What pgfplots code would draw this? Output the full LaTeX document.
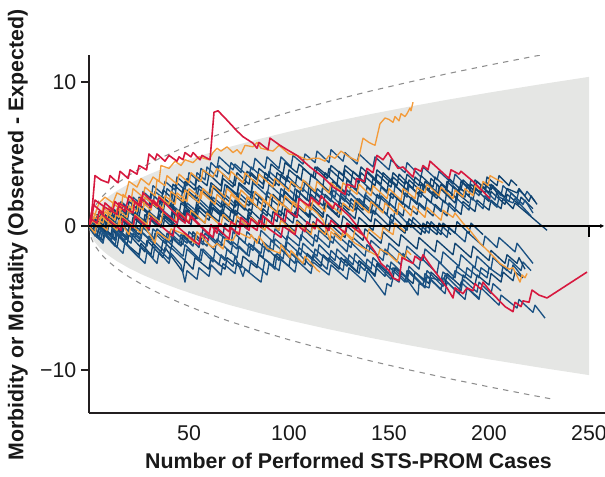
\documentclass[border=0pt]{standalone}
\usepackage{fontspec}
\setmainfont{Liberation Sans}
\usepackage{pgfplots}
\pgfplotsset{compat=1.18}
\usetikzlibrary{arrows.meta}
\definecolor{cblue}{HTML}{1B5283}
\definecolor{cblueb}{HTML}{0F426F}
\definecolor{cred}{HTML}{D7193F}
\definecolor{corange}{HTML}{F39B3A}
\definecolor{band}{HTML}{E5E6E4}
\definecolor{dgray}{HTML}{8E8E8E}
\definecolor{axisc}{HTML}{231F20}
\begin{document}
\begin{tikzpicture}
\path[use as bounding box] (0,0) rectangle (453.75pt,357pt);
\begin{axis}[at={(66.75pt,47.25pt)}, anchor=south west, scale only axis,
  width=387pt, height=268.5pt,
  xmin=0, xmax=258, ymin=-12.99, ymax=11.875,
  axis x line*=bottom, axis y line*=left,
  axis line style={line width=1.9pt, color=axisc},
  xtick={50,100,150,200,250}, ytick={-10,0,10}, yticklabels={−10,0,10},
  x tick style={draw=none}, y tick style={line width=1.5pt, color=axisc},
  tick align=outside, major tick length=6pt,
  tick label style={font=\fontsize{16}{19}\selectfont, text=black!90},
  /pgf/number format/assume math mode=true,
  every axis plot/.append style={line join=round},
]
% band
\addplot[draw=none, fill=band] coordinates {
(0,0) (0.5,0.463) (1,0.655) (2,0.926) (3,1.134) (5,1.465) (7,1.733) (10,2.071) (14,2.451) (20,2.929) (27,3.404) (35,3.875) (45,4.394) (55,4.858) (70,5.480) (85,6.039) (100,6.55) (120,7.175) (140,7.750) (160,8.285) (180,8.788) (200,9.263) (225,9.825) (250,10.357)
(250,-10.357) (225,-9.825) (200,-9.263) (180,-8.788) (160,-8.285) (140,-7.750) (120,-7.175) (100,-6.55) (85,-6.039) (70,-5.480) (55,-4.858) (45,-4.394) (35,-3.875) (27,-3.404) (20,-2.929) (14,-2.451) (10,-2.071) (7,-1.733) (5,-1.465) (3,-1.134) (2,-0.926) (1,-0.655) (0.5,-0.463) (0,0)};
% dashed limits
\addplot[dgray, line width=0.8pt, dash pattern=on 4pt off 4pt] coordinates {
(1,0.79) (2,1.117) (3,1.368) (5,1.766) (7,2.090) (10,2.498) (14,2.956) (20,3.533) (27,4.105) (35,4.674) (45,5.299) (55,5.859) (70,6.610) (85,7.284) (100,7.9) (120,8.654) (140,9.347) (160,9.993) (180,10.599) (200,11.172) (220,11.718) (233,12.059)};
\addplot[dgray, line width=0.8pt, dash pattern=on 4pt off 4pt] coordinates {
(1,-0.79) (2,-1.117) (3,-1.368) (5,-1.766) (7,-2.090) (10,-2.498) (14,-2.956) (20,-3.533) (27,-4.105) (35,-4.674) (45,-5.299) (55,-5.859) (70,-6.610) (85,-7.284) (100,-7.9) (120,-8.654) (140,-9.347) (160,-9.993) (180,-10.599) (200,-11.172) (220,-11.718) (233,-12.059)};

\pgfplotsset{bl/.style={cblue, line width=1.0pt}, blb/.style={cblueb, line width=1.0pt}, or/.style={corange, line width=1.0pt}, rd/.style={cred, line width=1.2pt}}
% blue lines
\addplot[bl] coordinates {(0,0)(1,-0.2)(2,0.6)(6,0.1)(7,0.9)(11,0.4)(12,1.2)(16,0.7)(17,1.5)(21,1.0)(22,1.8)(27,1.2)(28,2.0)(32,1.5)(33,2.4)(38,1.8)(39,2.6)(43,2.1)(44,3.0)(48,2.5)(49,3.3)(53,2.8)(54,3.7)(58,3.2)(59,4.1)(64,3.4)(65,4.2)(70,3.6)(71,4.4)(76,3.7)(77,4.5)(82,3.9)(83,4.7)(88,4.0)(89,4.8)(95,4.0)(96,4.8)(101,4.1)(102,4.9)(107,4.3)(108,5.0)(113,4.4)(114,5.2)(120,4.4)(121,5.3)(127,4.5)(128,5.1)(134,4.3)(135,5.0)(142,4.1)(143,4.8)(150,3.9)(151,4.6)(158,3.7)(159,4.4)(166,3.4)(167,4.1)(174,3.2)(175,3.8)(182,2.9)(183,3.6)(190,2.6)(191,3.2)(198,2.3)(199,3.0)(206,2.1)(207,2.8)(214,1.9)(215,2.5)(218,2.1)(219,2.4)(223,1.7)};
\addplot[blb] coordinates {(0,0)(2,-0.3)(3,0.5)(8,-0.1)(9,0.7)(13,0.2)(14,1.0)(19,0.4)(20,1.2)(25,0.6)(26,1.4)(30,0.9)(31,1.7)(36,1.1)(37,2.0)(42,1.4)(43,2.2)(48,1.6)(49,2.5)(54,1.9)(55,2.8)(60,2.2)(61,3.0)(66,2.4)(67,3.3)(72,2.7)(73,3.5)(78,2.9)(79,3.8)(84,3.2)(85,4.0)(90,3.4)(91,4.3)(97,3.6)(98,4.4)(104,3.7)(105,4.3)(112,3.4)(113,4.1)(119,3.3)(120,4.0)(127,3.1)(128,3.9)(135,3.0)(136,3.7)(143,2.8)(144,3.6)(151,2.7)(152,3.4)(159,2.5)(160,3.2)(167,2.3)(168,3.1)(175,2.2)(176,2.9)(184,1.9)(185,2.7)(192,1.8)(193,2.6)(200,1.7)(201,2.4)(208,1.5)(209,2.2)(215,1.5)(216,2.0)(222,1.2)};
\addplot[bl] coordinates {(0,0)(3,-0.4)(4,0.4)(9,-0.2)(10,0.6)(16,-0.1)(17,0.7)(22,0.1)(23,0.9)(29,0.2)(30,1.0)(35,0.4)(36,1.2)(41,0.6)(42,1.4)(48,0.7)(49,1.6)(54,1.0)(55,1.9)(61,1.1)(62,2.0)(67,1.4)(68,2.2)(74,1.4)(75,2.3)(81,1.5)(82,2.4)(88,1.6)(89,2.4)(95,1.7)(96,2.6)(102,1.8)(103,2.6)(109,1.8)(110,2.7)(116,1.9)(117,2.8)(123,2.0)(124,2.9)(130,2.1)(131,2.8)(138,1.9)(139,2.7)(145,1.9)(146,2.7)(152,1.9)(153,2.8)(159,2.0)(160,2.8)(166,2.0)(167,2.9)(173,2.1)(174,2.9)(181,1.9)(182,2.8)(188,2.0)(189,2.9)(195,2.1)(196,2.8)(203,1.8)(204,2.4)(210,1.7)(211,2.3)(217,1.5)(218,1.8)(222,0.9)};
\addplot[blb] coordinates {(0,0)(1,-0.3)(5,-0.8)(6,0.0)(11,-0.6)(12,0.2)(17,-0.4)(18,0.4)(22,-0.1)(23,0.7)(28,0.1)(29,0.9)(34,0.3)(35,1.1)(41,0.4)(42,1.3)(47,0.7)(48,1.5)(53,0.9)(54,1.8)(60,1.0)(61,1.9)(66,1.3)(67,2.1)(73,1.3)(74,2.1)(80,1.4)(81,2.2)(88,1.3)(89,2.1)(95,1.4)(96,2.2)(103,1.3)(104,2.1)(110,1.3)(111,2.2)(117,1.4)(118,2.2)(125,1.3)(126,2.1)(133,1.1)(134,1.9)(141,0.9)(142,1.7)(149,0.8)(150,1.6)(157,0.7)(158,1.5)(164,0.8)(165,1.6)(172,0.7)(173,1.5)(179,0.7)(180,1.6)(186,0.8)(187,1.7)(193,1.0)(194,1.8)(200,1.1)(201,1.8)(206,1.2)(207,1.9)(212,1.2)(213,1.6)(229,-0.3)};
\addplot[bl] coordinates {(0,0)(2,-0.4)(3,0.3)(7,-0.2)(8,0.6)(13,0.0)(14,0.8)(19,0.2)(20,1.0)(24,0.5)(25,1.4)(30,0.8)(31,1.7)(35,1.2)(36,2.0)(41,1.4)(42,2.3)(46,1.8)(47,2.6)(53,1.9)(54,2.7)(60,1.9)(61,2.8)(67,2.0)(68,2.9)(74,2.1)(75,2.9)(81,2.1)(82,3.0)(89,2.1)(90,2.9)(97,2.0)(98,2.8)(105,1.9)(106,2.7)(113,1.8)(114,2.6)(121,1.7)(122,2.5)(128,1.7)(129,2.5)(137,1.4)(138,2.2)(145,1.3)(146,2.1)(153,1.2)(154,2.0)(160,1.2)(161,2.0)(168,1.1)(169,1.9)(176,1.0)(177,1.8)(183,1.0)(184,1.9)(190,1.1)(191,2.0)(197,1.2)(198,2.1)(204,1.3)(205,2.0)(212,1.6)(213,1.9)(221,0.7)};
\addplot[blb] coordinates {(0,0)(3,-0.5)(7,-1.0)(8,-0.2)(13,-0.9)(14,-0.1)(19,-0.8)(20,0.0)(25,-0.6)(26,0.2)(30,-0.3)(31,0.5)(36,-0.1)(37,0.7)(42,0.1)(43,0.9)(48,0.3)(49,1.1)(54,0.5)(55,1.3)(60,0.7)(61,1.6)(67,0.8)(68,1.6)(74,0.8)(75,1.7)(81,0.8)(82,1.6)(89,0.7)(90,1.5)(96,0.7)(97,1.5)(104,0.6)(105,1.4)(110,0.7)(111,1.6)(117,0.8)(118,1.6)(124,0.8)(125,1.7)(130,1.1)(131,1.9)(137,1.1)(138,2.0)(143,1.4)(144,2.2)(150,1.4)(151,2.3)(157,1.5)(158,2.3)(164,1.5)(165,2.4)(171,1.6)(172,2.4)(178,1.6)(179,2.5)(184,1.9)(185,2.7)(190,2.1)(191,2.9)(196,2.3)(197,3.0)(201,2.5)(202,2.8)(205,2.0)};
\addplot[bl] coordinates {(0,0)(2,-0.4)(6,-1.0)(7,-0.2)(12,-0.9)(13,-0.1)(19,-0.9)(20,-0.1)(26,-0.9)(27,-0.1)(33,-0.9)(34,-0.2)(41,-1.1)(42,-0.3)(49,-1.2)(50,-0.4)(57,-1.3)(58,-0.5)(64,-1.3)(65,-0.5)(71,-1.3)(72,-0.4)(78,-1.2)(79,-0.4)(85,-1.2)(86,-0.3)(92,-1.1)(93,-0.2)(99,-1.0)(100,-0.2)(106,-1.0)(107,-0.2)(114,-1.1)(115,-0.3)(122,-1.2)(123,-0.5)(131,-1.5)(132,-0.8)(140,-1.8)(141,-1.0)(149,-2.0)(150,-1.2)(158,-2.2)(159,-1.4)(167,-2.4)(168,-1.6)(176,-2.6)(177,-1.8)(185,-2.8)(186,-2.0)(193,-2.9)(194,-2.1)(201,-3.0)(202,-2.2)(209,-3.1)(210,-2.3)(216,-3.1)(217,-2.5)(221,-3.1)};
\addplot[blb] coordinates {(0,0)(2,0.5)(5,0.1)(6,0.9)(11,0.3)(12,1.1)(17,0.5)(18,1.3)(23,0.7)(24,1.5)(30,0.8)(31,1.6)(37,0.9)(38,1.7)(45,0.8)(46,1.6)(53,0.7)(54,1.5)(61,0.6)(62,1.3)(70,0.3)(71,1.1)(79,0.0)(80,0.8)(87,-0.2)(88,0.6)(95,-0.3)(96,0.5)(103,-0.4)(104,0.4)(111,-0.5)(112,0.3)(119,-0.6)(120,0.2)(128,-0.8)(129,0.0)(137,-1.0)(138,-0.2)(146,-1.2)(147,-0.4)(155,-1.4)(156,-0.6)(164,-1.6)(165,-0.8)(173,-1.8)(174,-1.0)(182,-2.0)(183,-1.2)(191,-2.2)(192,-1.4)(200,-2.4)(201,-1.7)(208,-2.6)(209,-2.0)(214,-2.6)(215,-2.2)(218,-3.0)};
\addplot[bl] coordinates {(0,0)(3,-0.6)(4,0.1)(9,-0.6)(10,0.1)(16,-0.7)(17,0.0)(23,-0.8)(24,-0.1)(31,-1.0)(32,-0.2)(39,-1.1)(40,-0.4)(47,-1.3)(48,-0.5)(55,-1.5)(56,-0.7)(63,-1.7)(64,-0.9)(71,-1.9)(72,-1.1)(79,-2.0)(80,-1.2)(87,-2.2)(88,-1.4)(95,-2.4)(96,-1.6)(103,-2.6)(104,-1.8)(111,-2.8)(112,-2.0)(119,-3.0)(120,-2.2)(127,-3.1)(128,-2.3)(135,-3.3)(136,-2.5)(143,-3.5)(144,-2.7)(151,-3.7)(152,-2.9)(159,-3.9)(160,-3.1)(167,-4.1)(168,-3.3)(176,-4.4)(177,-3.6)(185,-4.7)(186,-3.9)(195,-5.1)(196,-4.3)(205,-5.5)(206,-4.8)(214,-5.7)(215,-5.1)(222,-6.0)(223,-5.5)(228,-6.4)};
\addplot[blb] coordinates {(0,0)(4,-0.7)(5,0.0)(11,-1.0)(12,-0.3)(19,-1.3)(20,-0.6)(28,-1.8)(29,-1.0)(37,-2.2)(38,-1.5)(47,-3.2)(48,-2.4)(52,-3.0)(53,-2.2)(60,-3.0)(61,-2.2)(68,-3.0)(69,-2.2)(76,-2.9)(77,-2.1)(84,-2.9)(85,-2.0)(92,-2.8)(93,-2.0)(100,-2.8)(101,-1.9)(108,-2.7)(109,-1.9)(116,-2.8)(117,-2.0)(125,-3.0)(126,-2.2)(134,-3.2)(135,-2.4)(143,-3.4)(144,-2.6)(152,-3.6)(153,-2.9)(162,-4.0)(163,-3.2)(170,-4.0)(171,-3.2)(178,-4.1)(179,-3.3)(186,-4.2)(187,-3.4)(193,-4.1)(194,-3.4)(200,-4.1)(201,-3.3)(206,-3.9)(207,-3.2)(212,-3.8)(213,-3.2)(217,-3.6)};
\addplot[bl] coordinates {(0,0)(2,-0.4)(6,-0.9)(7,-0.2)(13,-1.0)(14,-0.3)(21,-1.2)(22,-0.5)(29,-1.4)(30,-0.7)(38,-1.8)(39,-1.0)(47,-2.1)(48,-1.3)(56,-2.4)(57,-1.6)(65,-2.7)(66,-2.0)(72,-2.8)(73,-2.1)(77,-3.5)(78,-3.0)(86,-3.9)(87,-3.1)(89,-3.4)(90,-2.6)(93,-3.0)(94,-1.9)(97,-2.3)(98,-1.5)(104,-2.3)(105,-1.5)(112,-2.4)(113,-1.6)(120,-2.5)(121,-1.7)(129,-2.8)(130,-2.0)(138,-3.1)(139,-2.3)(148,-3.5)(149,-2.7)(158,-3.9)(159,-3.1)(168,-4.3)(169,-3.5)(178,-4.7)(179,-3.9)(188,-5.1)(189,-4.3)(195,-5.0)};
\addplot[blb] coordinates {(0,0)(2,-0.5)(3,0.3)(8,-0.4)(9,0.4)(14,-0.2)(15,0.6)(21,-0.2)(22,0.6)(27,0.0)(28,0.8)(34,0.0)(35,0.8)(41,0.0)(42,0.9)(47,0.3)(48,1.1)(53,0.4)(54,1.2)(60,0.4)(61,1.3)(66,0.7)(67,1.5)(72,0.9)(73,1.8)(78,1.1)(79,2.0)(84,1.3)(85,2.1)(91,1.3)(92,2.2)(97,1.5)(98,2.4)(103,1.7)(104,2.5)(110,1.7)(111,2.6)(116,1.9)(117,2.8)(121,2.3)(122,3.1)(128,2.3)(129,3.2)(134,2.5)(135,3.3)(141,2.5)(142,3.3)(149,2.4)(150,3.2)(157,2.3)(158,3.1)(165,2.2)(166,2.9)(174,1.9)(175,2.7)(183,1.6)(184,2.3)(190,1.6)};
\addplot[bl] coordinates {(0,0)(1,0.5)(5,0.0)(6,0.9)(10,0.4)(11,1.3)(15,0.8)(16,1.7)(21,1.1)(22,2.0)(26,1.5)(27,2.4)(31,1.9)(32,2.8)(37,2.2)(38,3.1)(43,2.5)(44,3.4)(49,2.8)(50,3.7)(55,3.1)(56,4.0)(60,3.5)(61,4.4)(64,4.0)(65,4.8)(72,3.9)(73,4.3)(80,3.4)(81,4.1)(89,3.1)(90,3.8)(98,2.8)(99,3.5)(107,2.4)(108,3.1)(116,2.0)(117,2.7)(125,1.6)(126,2.3)(134,1.2)(135,1.9)(143,0.8)(144,1.5)(152,0.3)(153,1.1)(161,-0.1)(162,0.6)(170,-0.5)(171,0.3)(179,-0.8)(180,-0.1)(188,-1.1)(189,-0.4)(197,-1.4)(198,-0.7)(204,-1.5)(205,-0.8)(213,-1.8)(214,-1.2)(222,-2.6)};
\addplot[blb] coordinates {(0,0)(4,-0.8)(5,-0.1)(10,-0.9)(14,-1.5)(15,-0.7)(20,-1.4)(25,-2.0)(26,-1.2)(31,-2.0)(32,-1.2)(36,-1.8)(37,-1.0)(41,-1.6)(42,-0.8)(46,-1.4)(47,-0.6)(51,-1.2)(52,-0.4)(56,-1.0)(57,-0.2)(62,-0.9)(63,-0.1)(67,-0.6)(68,0.2)(73,-0.4)(74,0.4)(79,-0.2)(80,0.6)(85,0.0)(86,0.8)(91,0.2)(92,1.0)(97,0.4)(98,1.2)(103,0.6)(104,1.4)(110,0.6)(111,1.4)(117,0.6)(118,1.5)(125,0.6)(126,1.4)(133,0.5)(134,1.3)(141,0.3)(142,1.1)(150,0.0)(151,0.8)(159,-0.3)(160,0.5)(168,-0.5)(169,0.3)(176,-0.6)(177,0.2)(183,-0.5)(184,0.3)(190,-0.5)(191,0.2)(197,-0.6)};
\addplot[bl] coordinates {(0,0)(3,-0.7)(4,0.0)(9,-0.8)(13,-1.4)(14,-0.6)(20,-1.5)(25,-2.2)(26,-1.4)(32,-2.2)(33,-1.4)(40,-2.3)(41,-1.5)(48,-2.4)(49,-1.6)(55,-2.4)(56,-1.6)(62,-2.5)(63,-1.7)(68,-2.4)(69,-1.6)(74,-2.2)(75,-1.4)(80,-2.1)(81,-1.3)(86,-1.9)(87,-1.1)(92,-1.7)(93,-0.9)(98,-1.5)(99,-0.7)(105,-1.4)(106,-0.6)(112,-1.4)(113,-0.6)(120,-1.5)(121,-0.7)(129,-1.8)(130,-1.0)(138,-2.1)(139,-1.3)(147,-2.4)(148,-1.6)(156,-2.7)(157,-1.9)(165,-3.0)(166,-2.2)(174,-3.3)(175,-2.5)(183,-3.6)(184,-2.8)(191,-3.6)(192,-2.8)(199,-3.6)(200,-2.9)(206,-3.5)(207,-2.8)(211,-3.3)(212,-2.7)(216,-3.4)};
\addplot[blb] coordinates {(0,0)(1,0.3)(3,0.0)(4,0.8)(9,0.2)(10,1.0)(14,0.5)(15,1.3)(19,0.8)(20,1.7)(24,1.2)(25,2.0)(30,1.4)(31,2.3)(36,1.6)(37,2.5)(41,2.0)(42,2.9)(47,2.3)(48,3.1)(53,2.5)(54,3.4)(59,2.8)(60,3.6)(66,2.8)(67,3.6)(73,2.8)(74,3.7)(80,2.9)(81,3.7)(87,2.9)(88,3.7)(95,2.8)(96,3.6)(103,2.7)(104,3.5)(110,2.7)(111,3.6)(117,2.8)(118,3.7)(124,2.9)(125,3.8)(131,3.0)(132,3.8)(138,3.0)(139,3.8)(146,2.9)(147,3.7)(154,2.8)(155,3.6)(162,2.6)(163,3.4)(170,2.5)(171,3.3)(178,2.3)(179,3.1)(185,2.3)(186,3.1)(192,2.3)(193,3.2)(198,2.6)(199,3.4)(204,2.8)(205,3.5)(210,2.8)(211,3.2)(214,2.8)};
\addplot[bl] coordinates {(0,0)(3,-0.6)(7,-1.2)(8,-0.5)(13,-1.3)(17,-1.9)(18,-1.1)(23,-1.9)(28,-2.6)(29,-1.8)(34,-2.6)(35,-1.8)(40,-2.6)(41,-1.9)(46,-2.7)(48,-3.9)(49,-3.1)(54,-3.7)(55,-2.9)(60,-3.5)(61,-2.7)(66,-3.4)(67,-2.6)(73,-3.3)(74,-2.5)(80,-3.2)(81,-2.4)(87,-3.1)(88,-2.3)(95,-3.1)(96,-2.3)(103,-3.2)(104,-2.4)(111,-3.3)(112,-2.5)(120,-3.4)(121,-2.7)(129,-3.7)(130,-2.9)(138,-3.9)(139,-3.1)(148,-4.8)(149,-4.0)(151,-4.2)(152,-3.6)(155,-3.9)(156,-3.3)(158,-3.5)(164.5,-4.8)(165,-4.0)(170,-4.3)(171,-3.6)(176,-3.8)(177,-3.2)(182,-3.7)(183,-3.1)(188,-3.6)(189,-2.9)(195,-3.6)(196,-2.9)(200,-3.3)};
\addplot[blb] coordinates {(0,0)(2,-0.3)(3,0.5)(7,0.0)(8,0.8)(12,0.3)(13,1.1)(18,0.5)(19,1.3)(24,0.7)(25,1.5)(30,0.9)(31,1.7)(35,1.2)(36,2.0)(42,1.3)(43,2.1)(48,1.5)(49,2.3)(55,1.6)(56,2.5)(61,1.9)(62,2.7)(68,2.0)(69,2.8)(74,2.2)(75,3.0)(81,2.3)(82,3.2)(87,2.6)(88,3.4)(93,2.8)(94,3.7)(99,3.1)(100,3.9)(106,3.2)(107,4.0)(113,3.3)(114,4.1)(120,3.4)(121,4.2)(127,3.5)(128,4.2)(135,3.4)(136,4.1)(143,3.2)(144,3.9)(151,3.0)(152,3.7)(158,2.9)(159,3.6)(165,2.8)(166,3.5)(172,2.7)(173,3.4)(179,2.6)(180,3.3)(186,2.5)(187,3.2)(193,2.4)(194,3.1)(200,2.3)(201,2.9)(208,2.0)(209,2.6)(214,2.3)(215,2.6)(220,1.7)(221,2.1)(224,1.5)};
\addplot[bl] coordinates {(0,0)(1,-0.3)(5,-0.9)(6,-0.2)(11,-1.0)(12,-0.2)(18,-1.0)(19,-0.3)(25,-1.1)(26,-0.4)(32,-1.2)(33,-0.5)(38,-1.2)(39,-0.5)(45,-1.3)(46,-0.6)(52,-1.4)(53,-0.6)(59,-1.4)(60,-0.6)(66,-1.4)(67,-0.7)(74,-1.6)(75,-0.8)(82,-1.7)(83,-0.9)(90,-1.8)(91,-1.0)(98,-1.9)(99,-1.1)(106,-2.0)(107,-1.2)(114,-2.1)(115,-1.3)(123,-2.4)(124,-1.6)(132,-2.7)(133,-1.9)(141,-3.0)(142,-2.2)(150,-3.3)(151,-2.5)(159,-3.6)(160,-2.8)(168,-3.9)(169,-3.1)(177,-4.2)(178,-3.4)(186,-4.5)(187,-3.7)(194,-4.6)(195,-3.9)(201,-4.7)(202,-4.0)(206,-4.5)};
\addplot[blb] coordinates {(0,0)(2,0.4)(6,-0.1)(7,0.7)(12,0.1)(16,-0.4)(17,0.4)(23,-0.3)(24,0.5)(30,-0.2)(31,0.6)(37,-0.1)(38,0.7)(44,0.0)(45,0.8)(51,0.1)(52,0.9)(58,0.2)(59,1.0)(65,0.3)(66,1.1)(72,0.3)(73,1.1)(79,0.4)(80,1.2)(86,0.4)(87,1.2)(94,0.3)(95,1.1)(102,0.2)(103,1.0)(110,0.1)(111,0.9)(118,0.0)(119,0.8)(126,-0.1)(127,0.7)(134,-0.2)(135,0.6)(142,-0.3)(143,0.5)(150,-0.4)(151,0.3)(158,-0.5)(159,0.3)(166,-0.6)(167,0.2)(174,-0.6)(175,0.2)(181,-0.6)};
% orange lines
\addplot[or] coordinates {(0,0)(3,0.8)(5,1.6)(8,2.0)(12,1.6)(14,2.3)(18,2.0)(20,3.1)(24,2.7)(26,3.3)(30,2.85)(32,3.4)(35,3.1)(36,4.2)(40,4.0)(43,4.5)(46,4.2)(48,4.6)(52,4.4)(55,4.8)(60,4.6)(62,5.1)(64,5.4)(66,5.2)(69,5.5)(72,5.1)(74,5.3)(76,5.0)(78,5.6)(82,5.5)(84,5.8)(86,5.4)(89,5.3)(92,5.2)(95,5.6)(100,5.0)(104,4.9)(109,4.6)(112,4.7)(115,4.7)(118,4.5)(120,4.9)(123,4.7)(126,5.2)(130,4.8)(134.5,4.5)(137,6.1)(140,5.8)(143,5.6)(145.5,7.1)(148,7.5)(150,7.4)(152,7.2)(153,7.6)(155,7.3)(156,7.8)(158,7.6)(159,7.8)(160.5,8.2)(161,8.0)(162,8.6)};
\addplot[or] coordinates {(0,0)(2,0.9)(6,0.5)(7,1.3)(11,0.8)(12,1.6)(16,1.1)(17,2.2)(21,1.7)(22,2.6)(27,2.0)(28,2.7)(33,2.1)(34,3.2)(38,2.8)(39,3.5)(44,2.9)(45,3.6)(50,3.0)(51,3.7)(56,3.1)(57,3.9)(62,3.4)(64,4.0)(70,3.2)(71,3.8)(77,3.0)(78,3.7)(84,2.9)(85,3.6)(92,2.7)(93,3.3)(100,2.4)(101,3.1)(106,2.5)(107,3.2)(113,2.4)(114,3.1)(120,2.3)(121,3.0)(126,2.4)(127,3.0)(134,2.2)(135,2.9)(141,2.1)(142,2.8)(149,1.9)(150,2.6)(156,1.8)(157,2.6)(163,1.9)(164,2.7)(168,2.3)(169,2.9)(175,2.1)(176,2.7)(182,1.9)(183,2.5)(187,2.0)(188,2.6)(192,2.1)(193,2.8)(196,2.5)(197,3.1)(199.5,2.8)(200.5,3.5)(203,3.3)(207,3.0)};
\addplot[or] coordinates {(0,0)(3,0.6)(7,0.2)(8,1.0)(13,0.4)(14,1.2)(19,0.6)(20,1.4)(24,1.0)(25,1.9)(31,1.1)(32,1.8)(37,1.2)(38,2.1)(43,1.5)(44,2.3)(49,1.7)(50,2.6)(56,1.9)(57,2.6)(61,2.1)(62,2.8)(68,2.0)(69,2.6)(75,1.8)(76,2.5)(82,1.7)(83,2.4)(90,1.5)(91,2.2)(97,1.4)(98,2.1)(104,1.3)(105,1.9)(111,1.1)(112,1.8)(118,1.0)(119,1.7)(126,0.8)(127,1.6)(132,1.0)(133,1.8)(140,0.9)(141,1.7)(147,0.9)(148,1.6)(154,0.8)(155,1.6)(161,0.7)(162,1.4)(168,0.6)(169,1.3)(176,0.4)(177,1.1)(182,0.6)(183,0.9)(187,0.2)(191,-0.4)(195.5,-1.2)(200,-1.8)(205.5,-2.6)(210,-3.0)(212,-2.9)(215.5,-3.9)(216.5,-3.4)(218,-3.6)(219,-3.3)};
\addplot[or] coordinates {(0,0)(3,-0.5)(4,0.3)(9,-0.3)(10,0.5)(15,-0.1)(16,0.7)(22,0.0)(23,0.8)(29,0.1)(30,0.9)(36,0.2)(37,1.0)(43,0.3)(44,1.1)(50,0.3)(51,1.1)(58,0.2)(59,0.9)(66,0.0)(67,0.8)(73,0.0)(74,0.7)(80,-0.1)(81,0.6)(88,-0.3)(89,0.5)(95,-0.3)(96,0.4)(103,-0.5)(104,0.3)(111,-0.6)(112,0.2)(118,-0.6)(119,0.1)(126,-0.8)(128,-0.5)(133,-1.2)(138,-1.6)(144.5,-2.1)(145.5,-1.6)(149.5,-1.9)(154,-2.5)(155,-1.9)(158,-2.3)(159,-1.7)(161,-2.0)};
\addplot[or] coordinates {(0,0)(2,0.4)(5,0.0)(6,0.7)(10,0.2)(14,-0.3)(15,0.4)(20,-0.6)(21,0.1)(26,-0.5)(27,0.2)(33,-1.2)(34,-0.4)(40,-1.0)(41,-0.2)(48,-0.6)(53,-1.2)(54,-0.4)(60,-1.3)(62,-1.5)(64,-1.2)(67,-1.6)(68,-0.9)(72,-1.0)(74,-0.4)(75.5,-0.5)(80.5,-0.85)(81,-0.6)(84,-1.2)(85,-0.7)(89,-1.55)(95.5,-1.9)(96,-1.3)(100.5,-2.2)(101,-1.7)(107,-2.6)(108,-2.1)(114,-3.05)(115.5,-3.2)};
\addplot[or] coordinates {(0,0)(1,0.5)(4,0.1)(5,1.0)(9,0.5)(10,1.3)(15,0.6)(16,1.5)(21,0.9)(22,1.7)(27,1.1)(28,2.0)(34,1.3)(35,2.1)(40,1.5)(41,2.4)(47,1.7)(48,2.5)(55,1.6)(56,2.4)(63,1.5)(64,2.2)(70,1.4)(71,2.2)(78,1.3)(79,2.0)(86,1.1)(87,1.8)(94,0.9)(95,1.7)(101,1.0)(102,1.7)(108,1.0)(109,1.5)(114,0.9)(117,0.4)(120.5,-1.0)(121,-0.4)(126,-1.0)(127,-0.3)(132,-0.9)(133,-0.2)(139,-0.9)(140,-0.2)(146,-0.9)(147,-0.1)(152,-0.6)(153,0.2)(158,-0.4)};
% red lines
\addplot[rd] coordinates {(0,0)(1,0.3)(3,3.5)(6,3.2)(9.7,3.0)(10.5,3.5)(12,3.3)(14.5,3.0)(15.5,3.8)(19.6,3.3)(20.5,3.9)(24,3.6)(25,4.2)(28.8,3.9)(30,5.0)(33,4.6)(34,5.0)(38,4.5)(40,4.9)(44,4.5)(45,4.8)(47,4.6)(48,5.1)(51,4.8)(52,5.1)(55.5,4.6)(56.5,4.9)(60.5,4.6)(62.5,7.9)(64.5,8.0)(68,7.5)(74,6.6)(77,6.2)(82,5.75)(84,5.4)(85,5.8)(89.5,5.3)(90.5,6.1)(95.5,5.6)(99,5.3)(104,4.9)(110.5,4.1)(117,3.4)(122,2.7)(128,2.2)(129,2.9)(133,2.7)(133.8,3.3)(137.5,3.1)(139,4.0)(142,3.7)(144,4.9)(147,4.6)(149.5,5.1)(154.5,4.0)(157,4.1)(162,3.4)(163,4.0)(166,3.8)(167,4.2)(169.5,3.9)(170.5,4.5)(180,3.3)(181,3.9)(185,3.6)(186,3.8)(192,3.1)(195.5,2.6)(200.5,1.9)};
\addplot[rd] coordinates {(0,0)(1,0.4)(3,1.8)(8,1.3)(14,0.8)(15,1.6)(22,0.9)(23,1.7)(26,1.4)(27,2.3)(34,1.4)(35,2.0)(40,1.3)(48,0.2)(49,0.9)(54,0.2)(62,-0.8)(63,0.0)(70,-0.9)(71,-0.1)(75,-0.6)(76,0.2)(80,-0.3)(81,0.5)(86,-0.1)(87,0.7)(92,0.1)(93,0.9)(98,0.3)(99,1.1)(104,0.6)(105,1.9)(110,1.4)(111,2.0)(115,1.5)(116,2.1)(122,1.2)(123,1.6)(130,0.7)(134,0.0)(138,-0.8)(143,-1.8)(146,-2.6)(150,-3.1)(152,-3.6)(155,-3.8)(156.5,-2.2)(162,-2.6)(163,-2.1)(166,-2.4)(167,-2.0)(171,-2.8)(179,-4.3)(182,-5.0)(183,-4.3)(187,-4.7)(189,-4.3)(192,-4.5)(193,-4.0)(196,-4.4)(197,-3.9)(201,-4.6)(208,-5.6)(212,-5.95)(213,-5.3)(216,-5.6)(217,-5.2)(220,-5.3)(221.5,-4.45)(225,-4.8)(229,-5.0)(249,-3.2)};
\addplot[rd] coordinates {(0,0)(2,1.5)(7,0.9)(8,1.6)(12,1.1)(13,1.7)(18,1.0)(20,2.1)(25,1.4)(26,2.0)(31,1.3)(32,1.8)(38,0.9)(44,0.2)(45,0.9)(50,0.2)(51,0.7)(58,-0.3)(60,-0.6)(61,0.1)(64,-0.5)(65,0.2)(70,-0.4)(71,0.3)(75,-0.1)(76,0.6)(80,0.1)(84,-0.3)(85,0.4)(90,-0.2)(96,-0.8)(97,0.0)(103,-0.6)(104,0.1)(108,-0.4)(109,0.3)(113,-0.2)(114,0.5)(120,-0.3)(121,0.4)(128,-0.5)(129,0.2)(133,-0.2)(137,-0.6)};
\addplot[rd] coordinates {(0,0)(1,0.5)(4,0.2)(5,1.0)(10,0.4)(16,-0.3)(17,0.5)(22,-0.1)(23,0.7)(30,-0.2)(31,0.6)(36,0.0)(42,-0.7)(43,0.1)(48,-0.5)(55,-1.3)(56,-0.5)(60,-1.0)};
% zero reference line
\addplot[black, line width=1.1pt] coordinates {(0,0) (255,0)};
\addplot[black, line width=0.8pt, -{Stealth[length=3pt, width=3pt]}] coordinates {(254,0) (257.5,0)};
\addplot[black, line width=0.9pt] coordinates {(250,0.1) (250,-0.8)};
\end{axis}
\node[anchor=base, font=\fontsize{16}{19}\selectfont\bfseries, text=black!90] at (261.4pt,6pt) {Number of Performed STS-PROM Cases};
\node[anchor=base, rotate=90, font=\fontsize{16}{19}\selectfont\bfseries, text=black!90] at (17.6pt,180.75pt) {Morbidity or Mortality (Observed - Expected)};
\end{tikzpicture}
\end{document}
